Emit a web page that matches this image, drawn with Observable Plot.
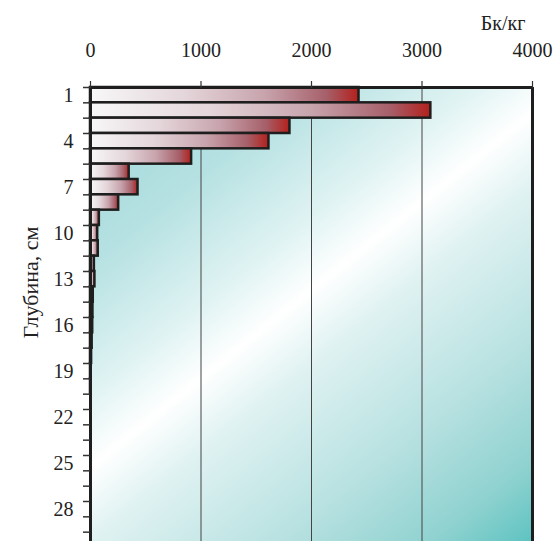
<!DOCTYPE html>
<html><head><meta charset="utf-8">
<script src="https://cdn.jsdelivr.net/npm/d3@7"></script>
<script src="https://cdn.jsdelivr.net/npm/@observablehq/plot@0.6"></script>
<style>html,body{margin:0;padding:0;overflow:hidden;background:#fff}
svg text{font-family:"Liberation Serif","Times New Roman",serif;font-variant-numeric:normal}</style>
</head><body><div id="chart"></div>
<script>
// Depth rows (cm) and activity (Bq/kg)
const depths = [1,2,3,4,5,6,7,8,9,10,11,12,13,14,15,16,17,18,19,20,21,22,23,24,25,26,27,28,29,30];
const activity = [2430,3080,1805,1615,915,350,430,255,80,65,70,35,40,25,22,20,15,10,6,4,0,0,0,0,0,0,0,0,0,0];
const xTicks = [0,1000,2000,3000,4000];
const gridValues = [1000,2000,3000];
const depthLabels = [1,4,7,10,13,16,19,22,25,28];
const xUnit = "Бк/кг";
const yTitle = "Глубина, см";

const rows = depths.map((d,i)=>({depth:d, value:activity[i]}));
const boundaries = [0, ...depths];
const xMax = xTicks[xTicks.length-1];
const yMax = depths[depths.length-1];
const FONT = "'Liberation Serif', 'Times New Roman', serif";

const defs = () => {
  const svg = d3.create("svg:defs");
  const bg = svg.append("linearGradient").attr("id","bgGrad")
    .attr("gradientUnits","userSpaceOnUse")
    .attr("x1",90).attr("y1",87).attr("x2",484).attr("y2",579);
  [[0,"#9cd6d8"],[0.22,"#b6e1e2"],[0.38,"#e0f3f3"],[0.47,"#ffffff"],[0.56,"#e0f2f2"],[0.75,"#b8e1e1"],[0.9,"#8fd2d0"],[1,"#5ec3c1"]]
    .forEach(([o,c])=>bg.append("stop").attr("offset",o).attr("stop-color",c));
  const bar = svg.append("linearGradient").attr("id","barGrad")
    .attr("x1",0).attr("y1",0).attr("x2",1).attr("y2",0);
  [[0,"#f8f8f8"],[0.35,"#e4d6da"],[0.65,"#c8a4ad"],[0.88,"#a6606a"],[1,"#b3201c"]]
    .forEach(([o,c])=>bar.append("stop").attr("offset",o).attr("stop-color",c));
  return svg.node();
};

const chart = Plot.plot({
  width: 557,
  height: 548,
  marginLeft: 90,
  marginRight: 25,
  marginTop: 87,
  marginBottom: 1,
  style: {fontFamily: FONT, fontSize: "20px", background: "transparent", color: "#222"},
  x: {domain: [0, xMax], axis: null},
  y: {domain: [0, yMax], reverse: true, axis: null},
  marks: [
    defs,
    Plot.frame({fill: "url(#bgGrad)", stroke: null}),
    Plot.ruleX(gridValues, {stroke: "#444", strokeWidth: 1}),
    Plot.rectX(rows, {x1: 0, x2: "value", y1: d => d.depth - 1, y2: "depth", fill: "url(#barGrad)", stroke: "#1e1e1e", strokeWidth: 2.5}),
    Plot.ruleY([0], {stroke: "#1e1e1e", strokeWidth: 3}),
    Plot.ruleX([xMax], {stroke: "#1e1e1e", strokeWidth: 3}),
    Plot.ruleX([0], {stroke: "#1e1e1e", strokeWidth: 3}),
    Plot.axisX({anchor: "top", ticks: xTicks, tickFormat: d3.format("d"), tickSize: 7, tickPadding: 24, label: null, stroke: "#333", strokeWidth: 1.2, fontSize: 20, fontFamily: FONT}),
    Plot.axisY({anchor: "left", ticks: boundaries, tickSize: 7, tickFormat: () => "", label: null, stroke: "#333", strokeWidth: 1.5}),
    Plot.axisY({anchor: "left", ticks: depthLabels.map(d => d - 0.5), tickFormat: d => String(d + 0.5), tickSize: 0, tickPadding: 17, label: null, fontSize: 20, fontFamily: FONT}),
    Plot.text([xUnit], {frameAnchor: "top-right", text: d => d, dx: -7, dy: -72, textAnchor: "end", fontSize: 20, fontFamily: FONT}),
    Plot.text([yTitle], {frameAnchor: "left", text: d => d, rotate: -90, textAnchor: "middle", dx: -60, dy: -35, fontSize: 22, fontFamily: FONT})
  ]
});
document.getElementById("chart").appendChild(chart);
</script>
</body></html>
